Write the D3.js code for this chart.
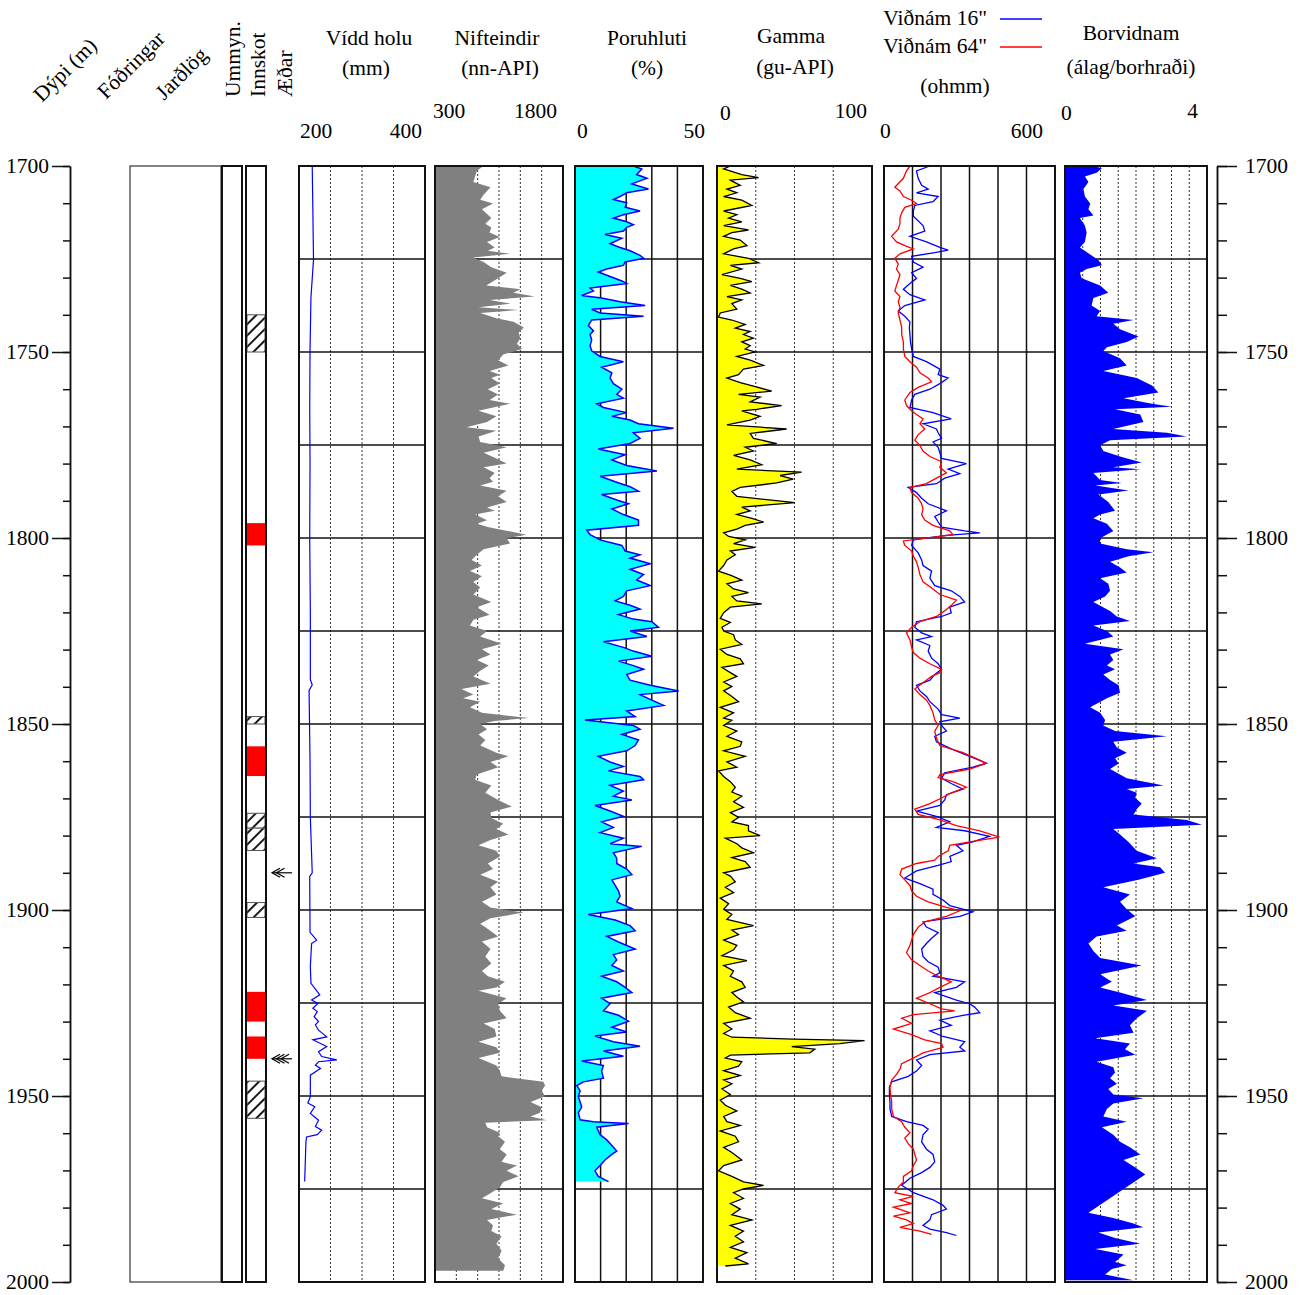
<!DOCTYPE html>
<html>
<head>
<meta charset="utf-8">
<script src="https://cdn.jsdelivr.net/npm/d3@7"></script>
<style>
  body { margin: 0; background: #fff; }
  svg text { font-family: "Liberation Serif", "Times New Roman", serif; font-size: 21.5px; fill: #000; }
</style>
</head>
<body>
<svg id="chart" width="1304" height="1295"></svg>
<script>
// depth (m) / value pairs
var caliperLog = [[1700,221],[1712,222],[1725.3,223],[1735.2,219],[1749.5,217.5],[1765,217],[1780,217.5],[1800,217],[1820,218],[1838,218],[1839.5,221],[1841,216],[1860,217.5],[1875,218],[1890,221],[1891,217],[1906,217.5],[1908.1,228],[1909,220],[1915.2,218],[1919.7,219],[1922.8,233],[1924.2,220],[1925.1,230],[1926.4,222],[1927.3,229],[1928.7,224],[1930,231],[1930.9,226],[1932.3,231],[1934.1,244],[1934.9,222],[1936.7,244],[1938.1,231],[1939.4,236],[1940.3,260],[1940.8,231],[1941.7,226],[1942.6,234],[1944.4,218],[1950.2,218],[1951.9,214],[1952.9,225],[1954.7,218],[1956.5,231],[1958.2,226],[1959.2,236],[1960.4,229],[1961,212],[1962.4,211],[1973,209]];

var neutronLog = [[1700,870],[1701.3,790],[1704.3,750],[1705.7,950],[1707.7,870],[1709.1,830],[1710.1,980],[1711.6,850],[1713.1,920],[1714,960],[1715.5,890],[1716.5,960],[1717.9,940],[1719.1,1060],[1720.4,910],[1721.9,1000],[1722.8,920],[1723.6,1180],[1724.6,750],[1725.8,870],[1727.2,960],[1728.7,1140],[1730.2,1040],[1732.1,900],[1733.1,1300],[1734.1,1220],[1735.1,1470],[1736,940],[1737,1180],[1738,810],[1738.7,1280],[1739.5,830],[1740.9,1020],[1741.9,1220],[1743.4,1340],[1744.8,1280],[1746.3,1300],[1747.8,1260],[1749.2,1320],[1750.7,1100],[1752.2,1040],[1753.6,1160],[1755.1,940],[1756.1,1060],[1757,960],[1758.5,1060],[1760,920],[1761.4,1040],[1762.9,940],[1763.9,1180],[1765.8,810],[1767.3,1020],[1768.8,910],[1770.2,670],[1771.2,1020],[1772.7,810],[1774.2,830],[1775.6,1140],[1777.1,870],[1778.6,1020],[1780,1140],[1781,870],[1782.5,1000],[1783.9,940],[1784.9,980],[1785.9,830],[1787.3,1140],[1788.8,1040],[1790.3,1140],[1791.8,910],[1792.7,1000],[1793.7,770],[1795.2,910],[1796.2,790],[1797.1,930],[1798.6,1260],[1799.1,1370],[1800.1,1140],[1801.5,1180],[1803,870],[1804.5,790],[1805.9,730],[1807.4,850],[1808.9,710],[1810.3,850],[1811.8,750],[1813.3,830],[1815.2,750],[1817.2,960],[1818.6,790],[1820.6,940],[1822,750],[1823.5,710],[1825,910],[1826.5,830],[1828.4,1080],[1829.9,850],[1831.3,950],[1832.8,790],[1834.3,930],[1835.7,830],[1837.2,750],[1839.2,950],[1840.6,610],[1842.1,750],[1843.1,630],[1844,830],[1845.5,710],[1847,850],[1848.4,1400],[1849.2,1000],[1850,830],[1851.4,910],[1852.8,810],[1854.3,890],[1855.8,830],[1857.7,1020],[1858.7,1160],[1860.2,950],[1861.6,1040],[1863.6,790],[1865,770],[1866.5,960],[1868.5,890],[1870.4,1040],[1872.2,1200],[1873.8,950],[1875.3,960],[1876.8,1100],[1878.2,1020],[1879.7,1160],[1881.2,950],[1882.6,810],[1884.1,1020],[1885.6,1060],[1887.5,920],[1889,980],[1890.5,830],[1892.4,1040],[1893.9,950],[1895.8,1020],[1897.8,850],[1899.3,950],[1900.7,1340],[1902.2,950],[1903.7,830],[1905.1,920],[1907.1,1040],[1908.5,850],[1910.5,950],[1912.5,890],[1914.4,960],[1916.4,850],[1917.8,920],[1919.3,1120],[1920.8,1020],[1921.7,810],[1923.7,1140],[1925.2,1040],[1927.1,1060],[1929.1,1140],[1930.5,870],[1932,1000],[1934,1020],[1935.4,810],[1936.9,1020],[1938.4,1060],[1939.8,810],[1941.8,1020],[1943.2,1060],[1944.7,1080],[1946.2,1570],[1947.2,1590],[1948.6,1550],[1950.1,1590],[1951.6,1420],[1953,1550],[1954.5,1530],[1955.5,1420],[1956.5,1610],[1957.2,890],[1958.4,910],[1959.9,1060],[1960.8,1040],[1962.3,1120],[1964.3,1060],[1965.7,1140],[1967.7,1080],[1968.7,1260],[1970.1,1140],[1971.6,1280],[1973.1,1100],[1974.5,1060],[1976,960],[1977.5,850],[1978.9,1100],[1980.4,960],[1981.9,1260],[1983.3,910],[1984.8,980],[1986.3,960],[1987.7,1080],[1989.7,1020],[1991.6,1080],[1993.6,1040],[1995.5,1120],[1997,1100]];

var porosityLog = [[1700,22.8],[1700.8,26.1],[1702.3,24.1],[1703.3,28.1],[1704.8,22.2],[1706.2,28.7],[1707.2,20.2],[1708.2,17.6],[1709,15],[1709.9,20.2],[1711.1,19.6],[1712.1,25.4],[1713.1,18.9],[1714,15],[1715,20.2],[1715.8,22.8],[1716.5,20.2],[1717.5,18.9],[1718.4,11.7],[1719.4,18.3],[1720.9,13.7],[1721.9,17.6],[1722.8,21.5],[1724,25.4],[1724.8,26.8],[1725.8,19.6],[1726.7,18.9],[1727.7,12.4],[1728.5,9.1],[1729.7,13.7],[1730.9,18.3],[1731.6,20.2],[1732.8,5.9],[1733.6,7.2],[1734.8,2.6],[1735.5,10.4],[1736.5,17.6],[1737.5,27.4],[1738.5,6.5],[1739.5,9.8],[1740.4,26.8],[1741.4,6.5],[1742.9,5.2],[1744.3,7.2],[1745.3,5.9],[1746.8,6.5],[1748.3,5.9],[1749.7,6.5],[1751.2,9.8],[1752.6,18.9],[1754.1,10.4],[1755.6,14.4],[1757,13.7],[1758.5,15],[1760,18.3],[1761.4,16.3],[1762.4,18.9],[1763.9,8.5],[1764.9,11.1],[1766.3,20.2],[1767.3,14.4],[1768.3,21.5],[1769.3,24.8],[1770.5,38.5],[1771.7,22.8],[1773.2,25.4],[1774.6,21.5],[1776.1,9.1],[1777.6,19.6],[1779,14.4],[1780.5,20.2],[1782,32],[1783.4,9.8],[1784.9,15.7],[1786.2,21.5],[1787.4,24.8],[1788.3,10.4],[1789.8,16.3],[1790.8,20.9],[1792.2,14.4],[1793.7,18.9],[1795.2,24.8],[1796.6,24.8],[1797.9,4.6],[1799.1,5.9],[1800.5,9.8],[1802,18.3],[1803.5,19.6],[1804.5,25.4],[1805.4,21.5],[1806.9,29.4],[1808.4,21.5],[1809.8,26.8],[1811.3,24.1],[1812.8,29.4],[1814.2,20.2],[1815.7,18.9],[1816.9,15.7],[1818.1,21.5],[1819.1,25.4],[1820.6,17],[1821.8,22.8],[1822.5,30],[1824,32.6],[1825,21.5],[1826.5,28.1],[1827.9,11.1],[1829.4,18.9],[1830.4,22.8],[1831.8,30],[1833.1,17],[1834.3,22.8],[1835.3,26.8],[1836.7,20.2],[1838.2,21.5],[1839.6,29.4],[1841.1,40.5],[1842.1,25.4],[1843.6,30],[1845,34.6],[1846.5,20.2],[1848,23.5],[1848.9,3.9],[1850.4,22.8],[1851.4,25.4],[1852.8,18.3],[1854.3,24.8],[1855.8,23.5],[1857.2,20.2],[1858.7,9.1],[1860.2,13.7],[1861.4,18.9],[1862.6,13.1],[1864.1,25.4],[1865,26.8],[1866.5,13.7],[1868,18.9],[1869.4,15],[1870.4,22.2],[1871.9,7.8],[1873.4,13.7],[1874.8,18.9],[1876.3,10.4],[1877.8,15],[1879.2,9.8],[1880.7,18.9],[1882.2,13.7],[1882.9,26.1],[1884.6,15],[1886.1,16.3],[1887.5,16.3],[1889,20.2],[1890.5,22.2],[1891.9,14.4],[1893.4,15.7],[1894.9,17],[1896.3,17.6],[1897.8,16.3],[1899.6,22.2],[1901.2,5.2],[1902.7,15.7],[1904.2,21.5],[1905.6,23.5],[1907.1,12.4],[1908.6,17],[1910.5,23.5],[1912,15],[1913.4,16.3],[1914.9,14.4],[1916.4,18.9],[1917.8,10.4],[1919.3,16.3],[1920.8,19.6],[1922.2,22.2],[1923.7,10.4],[1925.2,13.7],[1927.1,11.1],[1928.3,17],[1929.9,20.9],[1931.5,14.4],[1932.8,20.2],[1933.9,7.8],[1935.4,15],[1936.6,25.4],[1937.9,11.1],[1939.3,18.9],[1940.6,2.6],[1941.8,11.1],[1943.3,10.4],[1945.2,11.1],[1946.2,3.3],[1947.2,0.7],[1948.6,2],[1950.1,1.3],[1951.6,2],[1953,2.6],[1954.5,1.3],[1956.4,2],[1956.9,7.2],[1957.4,20.9],[1958.4,8.5],[1960.4,9.8],[1961.8,12.4],[1963.3,14.4],[1964.8,16.3],[1965.7,14.4],[1967.2,11.7],[1968.7,9.8],[1970.1,7.8],[1971.6,9.1],[1973,13.1]];

var gammaLog = [[1700,8.6],[1700.8,4.3],[1702.3,16],[1703.1,26.8],[1703.8,8.6],[1705.2,15],[1706.2,6.4],[1707.2,12.8],[1708.2,4.3],[1709.2,16],[1710.6,22.5],[1712.1,4.3],[1713.1,12.8],[1714,7.5],[1715,16],[1716,4.3],[1717.2,20.3],[1717.9,9.6],[1718.9,4.3],[1719.9,15],[1721.4,19.3],[1722.3,10.7],[1723.6,4.3],[1724.8,20.3],[1726,26.8],[1726.7,8.6],[1727.7,16],[1729.2,3.2],[1730.2,15],[1731.1,22.5],[1732.1,8.6],[1733.1,16],[1734.1,21.4],[1735.1,6.4],[1736,16],[1737,9.6],[1738.5,12.8],[1739.5,2.1],[1740.6,1],[1741.4,9.6],[1742.6,18.2],[1743.6,11.8],[1744.5,21.4],[1745.3,17.1],[1746.3,23.5],[1747.3,16],[1748.3,21.4],[1749.2,18.2],[1750,24.6],[1751.2,12.8],[1752.2,21.4],[1753.6,30],[1754.6,17.1],[1756.1,13.9],[1757,6.4],[1758.2,15],[1759.2,23.5],[1760.5,35.3],[1761.4,13.9],[1762.1,27.8],[1763.4,21.4],[1764.4,41.7],[1765.4,25.7],[1765.8,16],[1767.3,27.8],[1768.3,21.4],[1769.6,6.4],[1770.7,44.9],[1771.9,21.4],[1773.2,23.5],[1774.6,38.5],[1775.6,18.2],[1776.6,23.5],[1777.8,10.7],[1779,21.4],[1780.3,28.9],[1781.5,12.8],[1782.3,54.6],[1783.2,40.7],[1784.2,49.2],[1785.2,38.5],[1786.4,15],[1787.5,9.6],[1788.8,12.8],[1790.5,50.3],[1791.7,16],[1792.7,21.4],[1793.7,12.8],[1794.7,22.5],[1795.7,30],[1796.6,18.2],[1797.6,12.8],[1798.6,4.3],[1799.6,7.5],[1800.5,18.2],[1801.5,10.7],[1802.5,24.6],[1803.5,8.6],[1804.5,11.8],[1805.9,6.4],[1807.4,4.3],[1808.9,1],[1810,8.6],[1811.3,16],[1812.3,6.4],[1813.7,10.7],[1814.7,20.3],[1815.7,9.6],[1816.9,12.8],[1817.7,28.9],[1818.6,8.6],[1820.1,4.3],[1821.6,2.1],[1822.7,8.6],[1824,3.2],[1825,4.3],[1826,10.7],[1827.4,11.8],[1828.6,16],[1829.9,2.1],[1831.3,6.4],[1832.5,15],[1833.8,17.1],[1834.8,3.2],[1836.2,8.6],[1837.2,12.8],[1838.7,4.3],[1839.9,9.6],[1841.1,4.3],[1842.6,9.6],[1844,13.9],[1845.5,2.1],[1847,10.7],[1848.4,4.3],[1849,9.6],[1850.4,4.3],[1851.9,12.8],[1853.3,6.4],[1854.8,16],[1856,15],[1857.2,4.3],[1858.7,18.2],[1860.2,6.4],[1861.6,12.8],[1862.6,1],[1864.1,4.3],[1865.5,8.6],[1867,11.8],[1868.3,9.6],[1869.4,16],[1870.9,10.7],[1872.4,17.1],[1873.8,8.6],[1875.1,13.9],[1876.3,9.6],[1877.3,20.3],[1878.7,20.3],[1880,27.8],[1880.7,5.4],[1882.2,12.8],[1883.3,16],[1884.6,23.5],[1885.9,9.6],[1887,18.2],[1888.5,21.4],[1890,4.3],[1890.9,8.6],[1892.4,11.8],[1893.9,5.4],[1895.3,10.7],[1896.8,2.1],[1898.3,7.5],[1899.8,4.3],[1901.2,9.6],[1902.5,6.4],[1904.2,23.5],[1905.4,9.6],[1906.6,13.9],[1908.1,4.3],[1909.5,12.8],[1910.7,10.7],[1912.3,3.2],[1913.6,19.3],[1914.9,4.3],[1916.4,10.7],[1917.8,8.6],[1919.3,16],[1920.8,18.2],[1922.2,9.6],[1923.4,12.8],[1924.7,17.1],[1926.1,7.5],[1927.6,11.8],[1929.1,21.4],[1930.5,4.3],[1932,9.6],[1933.2,4.3],[1934.2,9.6],[1934.7,49.2],[1935.1,95.2],[1935.9,79.2],[1936.7,48.2],[1937.4,63.1],[1938.4,59.9],[1939,8.6],[1939.8,5.4],[1940.8,16],[1942,13.9],[1943.2,4.3],[1944.5,15],[1945.7,4.3],[1946.7,9.6],[1948.1,3.2],[1949.6,8.6],[1951.1,2.1],[1952.5,5.4],[1954,12.8],[1955.5,4.3],[1956.9,6.4],[1957.9,15],[1959.4,2.1],[1960.8,11.8],[1962.3,13.9],[1963.8,4.3],[1965.2,9.6],[1967.2,16],[1968.7,4.3],[1970.1,1],[1971.6,9.6],[1973.1,17.1],[1974,30],[1975,17.1],[1976,10.7],[1977.5,17.1],[1978.9,8.6],[1980.4,15],[1981.9,9.6],[1983.3,22.5],[1984.8,8.6],[1986.3,17.1],[1987.7,11.8],[1989.2,17.1],[1990.7,8.6],[1992.1,19.3],[1993.6,11.8],[1995.1,20.3],[1995.7,5.4]];

var res16Log = [[1700,161],[1701.3,114],[1703.3,120],[1705.2,132],[1706.2,155],[1707.2,114],[1708.2,190],[1709.6,172],[1710.6,108],[1712.1,103],[1713.5,103],[1716,137],[1717.5,143],[1718.9,91],[1720.4,149],[1721.9,196],[1722.6,225],[1723.3,178],[1724.3,97],[1725.8,103],[1727.2,137],[1728.7,97],[1730.2,114],[1731.6,91],[1733.1,68],[1734.6,91],[1736,143],[1737.5,73],[1739,50],[1740.4,73],[1741.9,91],[1743.4,89],[1745.3,91],[1747.3,93],[1749.2,97],[1751.2,103],[1752.6,149],[1754.6,196],[1756.1,190],[1757,225],[1758.5,196],[1760,161],[1761.4,108],[1762.9,97],[1764.9,91],[1766.3,172],[1768,236],[1769.3,137],[1770.7,184],[1771.7,190],[1773.2,202],[1774.2,172],[1775.6,190],[1777.1,196],[1778.6,202],[1780,289],[1781.5,225],[1782.7,266],[1783.9,213],[1785.4,184],[1786.4,85],[1787.8,114],[1789.3,132],[1790.8,155],[1792.7,219],[1794.2,178],[1795.7,190],[1797.1,202],[1798.1,283],[1798.6,336],[1799.3,219],[1800.5,103],[1802,97],[1804,120],[1805.9,132],[1807.4,137],[1808.9,167],[1810.8,161],[1812.8,178],[1814.2,236],[1815.7,266],[1817.2,283],[1818.6,231],[1820.1,236],[1821.1,202],[1822.5,114],[1824,108],[1825.5,132],[1826.5,167],[1827.4,114],[1828.9,161],[1830.4,155],[1832.3,167],[1833.8,190],[1835.3,202],[1836.7,178],[1838.2,161],[1839.6,114],[1841.1,126],[1842.6,149],[1844,161],[1846,190],[1847.5,202],[1848.4,266],[1849.4,196],[1850.4,202],[1851.9,219],[1853.3,178],[1854.8,184],[1856.7,236],[1858.7,301],[1860.5,359],[1861.6,312],[1863.1,213],[1864.6,202],[1866,236],[1867.5,277],[1869,219],[1870.4,213],[1871.9,196],[1873.4,114],[1874.8,184],[1876.3,231],[1877.8,184],[1878.7,283],[1880.2,370],[1881.7,312],[1882.6,254],[1884.1,277],[1885.6,231],[1887,236],[1888,190],[1889.5,114],[1891.4,73],[1892.9,126],[1894.4,172],[1895.8,172],[1897.3,207],[1898.8,231],[1900.5,312],[1901.7,266],[1903.2,137],[1904.6,149],[1906.1,190],[1907.6,167],[1909,149],[1910.5,132],[1912.5,137],[1913.9,155],[1915.4,190],[1916.9,196],[1917.8,172],[1919.3,283],[1920.8,254],[1922.2,178],[1924.2,254],[1925.2,301],[1926.1,318],[1927.6,336],[1928.3,277],[1929.6,196],[1931,236],[1932.5,161],[1934,207],[1935.4,283],[1936.9,266],[1937.9,283],[1938.9,161],[1940.3,114],[1941.8,132],[1943.3,114],[1944.7,85],[1946.2,27],[1947.6,19],[1949.6,19],[1951.6,21],[1953.5,21],[1955.5,27],[1956.9,79],[1957.9,137],[1958.9,155],[1960.4,137],[1962.3,132],[1964.3,149],[1965.7,172],[1967.7,178],[1969.2,161],[1970.6,132],[1972.1,91],[1974,62],[1976,103],[1977.9,172],[1979.4,207],[1980.4,219],[1981.9,167],[1983.3,161],[1984.8,137],[1985.8,161],[1986.7,219],[1987.5,254]];

var res64Log = [[1700,91],[1701.3,79],[1703.3,68],[1705.7,38],[1706.7,56],[1708.2,68],[1709.2,97],[1710.1,114],[1711.1,73],[1712.6,62],[1714,56],[1715.5,56],[1717,50],[1718.9,27],[1720.4,44],[1721.4,73],[1722.3,103],[1723.6,56],[1724.8,38],[1726.3,50],[1727.7,44],[1729.2,56],[1730.7,50],[1732.1,44],[1733.6,38],[1735.1,56],[1736.5,50],[1738,56],[1739.5,50],[1741.4,56],[1743.4,62],[1745.3,62],[1747.3,68],[1749.2,68],[1751.2,73],[1752.6,91],[1754.1,114],[1755.6,126],[1757,155],[1758,167],[1759.5,120],[1760.9,91],[1762.9,73],[1764.4,79],[1765.8,97],[1766.8,114],[1768,137],[1769.3,126],[1770.7,143],[1772.2,120],[1773.7,108],[1775.1,126],[1776.6,137],[1778.1,161],[1779.5,202],[1781,196],[1782.5,219],[1783.9,184],[1785.4,149],[1786.4,91],[1787.8,97],[1789.3,120],[1790.8,132],[1792.2,137],[1793.7,132],[1795.2,143],[1796.6,172],[1798.1,231],[1799.1,242],[1799.9,161],[1800.8,68],[1802,73],[1803.5,97],[1804.9,103],[1806.4,114],[1807.9,120],[1809.8,126],[1811.8,137],[1813.7,172],[1815.2,196],[1816.7,254],[1818.1,236],[1819.6,213],[1821.1,184],[1822.5,126],[1824,97],[1825.5,79],[1827.4,91],[1829.4,97],[1830.8,103],[1832.3,126],[1833.8,161],[1835.3,202],[1836.2,196],[1837.2,167],[1839.2,132],[1840.6,108],[1842.1,126],[1843.6,149],[1845,161],[1847,172],[1848.9,178],[1850.4,190],[1851.9,178],[1853.8,184],[1855.8,196],[1857.7,277],[1859.7,336],[1860.6,359],[1862.1,301],[1863.6,196],[1864.4,190],[1865.5,242],[1867,289],[1868.5,236],[1869.9,202],[1871.4,161],[1872.9,108],[1874.3,120],[1875.8,196],[1877.3,254],[1878.7,336],[1880.4,405],[1881.7,301],[1882.6,231],[1884.1,225],[1885.6,190],[1886.6,178],[1887.5,114],[1889,62],[1890.5,56],[1891.9,73],[1893.4,91],[1894.9,97],[1896.3,114],[1897.8,155],[1899.3,219],[1900.2,266],[1901.7,219],[1903.2,143],[1904.6,120],[1906.6,103],[1908.1,97],[1909.5,91],[1911.5,79],[1913.4,97],[1914.9,126],[1916.4,155],[1917.8,190],[1919.3,236],[1920.8,196],[1922.2,161],[1923.7,114],[1925.2,161],[1926.6,202],[1927.1,248],[1928.1,103],[1929.1,62],[1930.5,97],[1932,33],[1933.5,97],[1934.9,143],[1935.9,202],[1936.9,207],[1938.4,137],[1939.8,103],[1941.3,62],[1942.8,56],[1944.2,44],[1945.7,27],[1947.6,21],[1949.6,23],[1951.6,27],[1953.5,27],[1955.5,33],[1956.9,62],[1958.4,73],[1959.9,91],[1961.3,73],[1962.8,85],[1964.3,103],[1965.7,108],[1967.2,114],[1968.7,103],[1970.1,97],[1971.6,68],[1973.1,68],[1974.5,50],[1976,38],[1977,103],[1977.9,56],[1978.9,97],[1979.9,33],[1981.4,91],[1982.3,33],[1983.3,79],[1984.3,103],[1985.3,56],[1986.3,126],[1987.2,167]];

var borLog = [[1700,0.80],[1700.6,1.04],[1701.8,0.89],[1702.8,0.56],[1704.3,0.66],[1706.2,0.52],[1708.2,0.56],[1710.1,0.71],[1711.6,0.66],[1713.3,0.80],[1714,0.42],[1716,0.56],[1717.9,0.61],[1720.4,0.56],[1721.9,0.42],[1723.8,0.71],[1725.3,0.94],[1726.7,1.04],[1727.7,0.61],[1728.7,0.42],[1730.2,0.47],[1732.1,0.99],[1734.1,1.22],[1735.5,0.80],[1737.5,0.75],[1739,0.99],[1740.4,0.89],[1741.4,1.93],[1742.4,1.36],[1743.9,1.55],[1745.8,2.07],[1747.3,1.74],[1748.7,1.18],[1749.7,1.08],[1751.7,1.55],[1753.6,1.74],[1755.1,1.08],[1757,2.02],[1759,2.45],[1760.9,2.63],[1762.4,1.65],[1763.9,2.45],[1764.7,3.01],[1765.4,1.41],[1766.8,2.12],[1768.8,2.21],[1770.7,1.36],[1771.7,2.87],[1772.7,3.43],[1773.7,1.27],[1775.1,0.99],[1776.6,1.08],[1778.1,1.55],[1779.7,2.16],[1781,1.36],[1781.5,2.12],[1782.5,0.80],[1784.4,0.99],[1785.2,1.60],[1785.9,0.85],[1787.2,1.79],[1788.3,0.94],[1790.3,1.22],[1792.7,1.41],[1793.7,0.99],[1794.7,0.80],[1796.2,1.18],[1798.1,1.36],[1800.1,0.99],[1801.5,0.99],[1803,1.74],[1803.8,2.49],[1804.9,1.79],[1806.4,1.27],[1807.9,1.55],[1809.3,1.74],[1810.8,0.99],[1812.3,1.22],[1814.2,1.27],[1815.7,1.13],[1817.2,0.80],[1819.6,1.27],[1821.1,1.46],[1822.3,1.83],[1823.5,0.80],[1825,1.18],[1826.5,1.36],[1828.4,0.56],[1829.9,1.65],[1831.3,1.27],[1832.8,1.36],[1834.3,1.18],[1835.3,1.41],[1836.7,1.08],[1838.2,1.27],[1839.6,1.51],[1841.6,1.55],[1843.1,1.18],[1845.5,0.71],[1847,0.99],[1848.9,1.13],[1850.4,1.08],[1851.9,1.41],[1853.3,2.87],[1854.8,1.36],[1856.3,1.46],[1857.7,1.74],[1859.2,1.41],[1860.6,1.51],[1862.1,1.27],[1864.6,1.74],[1866.5,2.78],[1867.5,1.74],[1868.5,2.02],[1869.9,1.98],[1871.4,2.16],[1872.9,2.02],[1874.3,1.93],[1875.8,3.43],[1877.1,3.86],[1878.2,1.36],[1879.7,1.55],[1881.7,1.79],[1884.1,2.02],[1886.1,2.59],[1887.5,1.93],[1888.5,2.68],[1890,2.82],[1891.9,2.07],[1893.9,1.08],[1895.8,1.83],[1897.8,1.55],[1899.8,1.74],[1901.7,1.98],[1904.2,1.46],[1905.6,1.74],[1907.1,0.89],[1909,0.66],[1911,0.80],[1912.9,0.99],[1914.9,2.16],[1917.3,0.99],[1919.3,1.32],[1920.8,0.99],[1922.2,1.55],[1924.2,2.31],[1925.7,1.36],[1927.1,2.31],[1929.1,2.02],[1931,1.83],[1933,1.93],[1934.5,0.85],[1935.9,1.83],[1937.4,1.69],[1938.9,1.98],[1940.8,0.89],[1942.3,1.36],[1943.7,1.41],[1945.2,1.27],[1946.7,1.46],[1948.1,1.22],[1949.6,1.36],[1950.6,2.21],[1952,1.36],[1953.5,1.18],[1955.5,1.08],[1956.9,1.74],[1958.4,1.04],[1960.4,1.36],[1962.3,1.55],[1963.8,1.83],[1965.7,2.12],[1967.2,1.65],[1969.2,1.98],[1971.1,2.26],[1981.4,0.66],[1982.8,1.36],[1984.3,1.93],[1985.3,2.21],[1986.7,0.94],[1988.2,1.41],[1989.7,2.12],[1991.1,0.85],[1992.6,1.65],[1994.6,1.41],[1995.5,1.74],[1996.5,1.32],[1998,1.13],[1999.5,1.93]];

// intrusion intervals (top, bottom) and feed zones (depth, arrow count)
var innskotHatched = [[1740,1750],[1848,1850],[1874,1878],[1878,1884],[1898,1902],[1946,1956]];
var innskotRed = [[1796,1802],[1856,1864],[1922,1930],[1934,1940]];
var aedar = [[1890,2],[1940,3]];

var depthLabels = [1700,1750,1800,1850,1900,1950,2000];
var depthMinor = d3.range(1700, 2001, 10);
var gridDepths = d3.range(1725, 2000, 25);

var svg = d3.select("#chart");
var y = d3.scaleLinear().domain([1700, 2000]).range([166, 1282]);

var xCal = d3.scaleLinear().domain([200, 400]).range([299, 425]);
var xNeu = d3.scaleLinear().domain([300, 1800]).range([435, 563]);
var xPor = d3.scaleLinear().domain([0, 50]).range([575, 703]);
var xGam = d3.scaleLinear().domain([0, 100]).range([717, 872]);
var xRes = d3.scaleLinear().domain([0, 600]).range([884, 1055]);
var xBor = d3.scaleLinear().domain([0, 4]).range([1065, 1207]);

var tracks = [
    {x: xCal, grid: [250, 300, 350], dotted: true},
    {x: xNeu, grid: [550, 800, 1050, 1300, 1550], dotted: true},
    {x: xPor, grid: [10, 20, 30, 40], dotted: false},
    {x: xGam, grid: [25, 50, 75], dotted: true},
    {x: xRes, grid: [100, 200, 300, 400, 500], dotted: false},
    {x: xBor, grid: [0.5, 1, 1.5, 2, 2.5, 3, 3.5], dotted: true}
];

var gridLayer = svg.append("g");
var dataLayer = svg.append("g");
var frameLayer = svg.append("g");

tracks.forEach(function(t) {
    var r = t.x.range();
    gridLayer.append("g").selectAll("line")
        .data(t.grid).join("line")
        .attr("x1", function(d){ return t.x(d); })
        .attr("x2", function(d){ return t.x(d); })
        .attr("y1", y(1700)).attr("y2", y(2000))
        .attr("stroke", t.dotted ? "#333" : "#111")
        .attr("stroke-width", t.dotted ? 1 : 1.5)
        .attr("stroke-dasharray", t.dotted ? "2,2" : null);
    gridLayer.append("g").selectAll("line")
        .data(gridDepths).join("line")
        .attr("x1", r[0]).attr("x2", r[1])
        .attr("y1", function(d){ return y(d); })
        .attr("y2", function(d){ return y(d); })
        .attr("stroke", "#111").attr("stroke-width", 1.5);
    frameLayer.append("rect")
        .attr("x", r[0]).attr("y", y(1700))
        .attr("width", r[1] - r[0]).attr("height", y(2000) - y(1700))
        .attr("fill", "none").attr("stroke", "#111").attr("stroke-width", 2);
});

function fillArea(sx) {
    return d3.area()
        .y(function(d){ return y(d[0]); })
        .x0(sx.range()[0])
        .x1(function(d){ return sx(d[1]); });
}
function traceLine(sx) {
    return d3.line()
        .y(function(d){ return y(d[0]); })
        .x(function(d){ return sx(d[1]); });
}

// Vídd holu
dataLayer.append("path").datum(caliperLog)
    .attr("d", traceLine(xCal)).attr("fill", "none")
    .attr("stroke", "#0000ff").attr("stroke-width", 1.2);

// Nifteindir
dataLayer.append("path").datum(neutronLog)
    .attr("d", fillArea(xNeu)).attr("fill", "#808080");

// Poruhluti
dataLayer.append("path").datum(porosityLog)
    .attr("d", fillArea(xPor)).attr("fill", "#00ffff");
dataLayer.append("path").datum(porosityLog)
    .attr("d", traceLine(xPor)).attr("fill", "none")
    .attr("stroke", "#0000ff").attr("stroke-width", 1.5);

// Gamma
dataLayer.append("path").datum(gammaLog)
    .attr("d", fillArea(xGam)).attr("fill", "#ffff00");
dataLayer.append("path").datum(gammaLog)
    .attr("d", traceLine(xGam)).attr("fill", "none")
    .attr("stroke", "#000").attr("stroke-width", 1.3);

// Viðnám
dataLayer.append("path").datum(res16Log)
    .attr("d", traceLine(xRes)).attr("fill", "none")
    .attr("stroke", "#0000ff").attr("stroke-width", 1.3);
dataLayer.append("path").datum(res64Log)
    .attr("d", traceLine(xRes)).attr("fill", "none")
    .attr("stroke", "#ff0000").attr("stroke-width", 1.3);

// Borvidnam
dataLayer.append("path").datum(borLog)
    .attr("d", fillArea(xBor)).attr("fill", "#0000ff");

// left columns
frameLayer.append("rect").attr("x", 130).attr("y", y(1700))
    .attr("width", 91).attr("height", y(2000) - y(1700))
    .attr("fill", "none").attr("stroke", "#333").attr("stroke-width", 1.2);
frameLayer.append("rect").attr("x", 222).attr("y", y(1700))
    .attr("width", 20).attr("height", y(2000) - y(1700))
    .attr("fill", "none").attr("stroke", "#111").attr("stroke-width", 2);
frameLayer.append("rect").attr("x", 246).attr("y", y(1700))
    .attr("width", 20).attr("height", y(2000) - y(1700))
    .attr("fill", "none").attr("stroke", "#111").attr("stroke-width", 2);

var defs = svg.append("defs");
var pat = defs.append("pattern").attr("id", "hatch")
    .attr("patternUnits", "userSpaceOnUse")
    .attr("width", 8).attr("height", 8)
    .attr("patternTransform", "rotate(45)");
pat.append("rect").attr("width", 8).attr("height", 8).attr("fill", "#fff");
pat.append("line").attr("x1", 4).attr("y1", 0).attr("x2", 4).attr("y2", 8)
    .attr("stroke", "#000").attr("stroke-width", 1.8);

dataLayer.append("g").selectAll("rect").data(innskotHatched).join("rect")
    .attr("x", 247).attr("width", 18)
    .attr("y", function(d){ return y(d[0]); })
    .attr("height", function(d){ return y(d[1]) - y(d[0]); })
    .attr("fill", "url(#hatch)").attr("stroke", "#555").attr("stroke-width", 1);
dataLayer.append("g").selectAll("rect").data(innskotRed).join("rect")
    .attr("x", 247).attr("width", 18)
    .attr("y", function(d){ return y(d[0]); })
    .attr("height", function(d){ return y(d[1]) - y(d[0]); })
    .attr("fill", "#ff0000");

// feed zone arrows
var arrows = dataLayer.append("g").selectAll("g").data(aedar).join("g")
    .attr("transform", function(d){ return "translate(272," + y(d[0]) + ")"; })
    .attr("fill", "none").attr("stroke", "#000").attr("stroke-width", 1.2);
arrows.append("line").attr("x1", 0).attr("x2", 20).attr("y1", 0).attr("y2", 0);
arrows.selectAll("path").data(function(d){ return d3.range(d[1]); }).join("path")
    .attr("d", function(i){ var t = i * 4.5; return "M" + (t + 8) + ",-4.5L" + t + ",0L" + (t + 8) + ",4.5"; });

// depth axes
var fmt = d3.format("d");
var axL = svg.append("g").attr("transform", "translate(70,0)");
axL.call(d3.axisLeft(y).tickValues(depthMinor).tickSize(7).tickFormat("").tickSizeOuter(0));
var axL2 = svg.append("g").attr("transform", "translate(70,0)");
axL2.call(d3.axisLeft(y).tickValues(depthLabels).tickSize(18).tickPadding(3).tickFormat(fmt).tickSizeOuter(0));
var axR = svg.append("g").attr("transform", "translate(1217,0)");
axR.call(d3.axisRight(y).tickValues(depthMinor).tickSize(10).tickFormat("").tickSizeOuter(0));
var axR2 = svg.append("g").attr("transform", "translate(1217,0)");
axR2.call(d3.axisRight(y).tickValues(depthLabels).tickSize(20).tickPadding(8).tickFormat(fmt).tickSizeOuter(0));
svg.selectAll(".domain, .tick line").attr("stroke", "#111").attr("stroke-width", 1.5);

// header
var rotated = [
    {text: "Dýpi (m)", x: 42, y: 103, a: -45},
    {text: "Fóðringar", x: 106, y: 100, a: -45},
    {text: "Jarðlög", x: 164, y: 101, a: -45},
    {text: "Ummyn.", x: 240, y: 97, a: -90},
    {text: "Innskot", x: 265, y: 97, a: -90},
    {text: "Æðar", x: 292, y: 97, a: -90}
];
svg.append("g").selectAll("text").data(rotated).join("text")
    .attr("transform", function(d){ return "translate(" + d.x + "," + d.y + ") rotate(" + d.a + ")"; })
    .text(function(d){ return d.text; });

var titles = [
    {text: "Vídd holu", x: 369, y: 45}, {text: "(mm)", x: 366, y: 75},
    {text: "Nifteindir", x: 497, y: 45}, {text: "(nn-API)", x: 500, y: 75},
    {text: "Poruhluti", x: 647, y: 45}, {text: "(%)", x: 647, y: 75},
    {text: "Gamma", x: 791, y: 43}, {text: "(gu-API)", x: 795, y: 74},
    {text: "(ohmm)", x: 955, y: 93},
    {text: "Borvidnam", x: 1131, y: 40}, {text: "(álag/borhraði)", x: 1131, y: 74}
];
svg.append("g").attr("text-anchor", "middle").selectAll("text").data(titles).join("text")
    .attr("x", function(d){ return d.x; }).attr("y", function(d){ return d.y; })
    .text(function(d){ return d.text; });

var legend = [
    {text: "Viðnám 16\"", y: 25, color: "#0000ff"},
    {text: "Viðnám 64\"", y: 53, color: "#ff0000"}
];
var lg = svg.append("g").selectAll("g").data(legend).join("g");
lg.append("text").attr("x", 987).attr("y", function(d){ return d.y; })
    .attr("text-anchor", "end").text(function(d){ return d.text; });
lg.append("line").attr("x1", 1000).attr("x2", 1042)
    .attr("y1", function(d){ return d.y - 6; }).attr("y2", function(d){ return d.y - 6; })
    .attr("stroke", function(d){ return d.color; }).attr("stroke-width", 1.3);

// scale end labels
var scaleLabels = [
    {text: "200", x: 300, y: 138, anchor: "start"}, {text: "400", x: 422, y: 138, anchor: "end"},
    {text: "300", x: 433, y: 118, anchor: "start"}, {text: "1800", x: 557, y: 118, anchor: "end"},
    {text: "0", x: 577, y: 138, anchor: "start"}, {text: "50", x: 705, y: 138, anchor: "end"},
    {text: "0", x: 720, y: 120, anchor: "start"}, {text: "100", x: 867, y: 118, anchor: "end"},
    {text: "0", x: 880, y: 138, anchor: "start"}, {text: "600", x: 1043, y: 138, anchor: "end"},
    {text: "0", x: 1061, y: 120, anchor: "start"}, {text: "4", x: 1198, y: 118, anchor: "end"}
];
svg.append("g").selectAll("text").data(scaleLabels).join("text")
    .attr("x", function(d){ return d.x; }).attr("y", function(d){ return d.y; })
    .attr("text-anchor", function(d){ return d.anchor; })
    .text(function(d){ return d.text; });
</script>
</body>
</html>
